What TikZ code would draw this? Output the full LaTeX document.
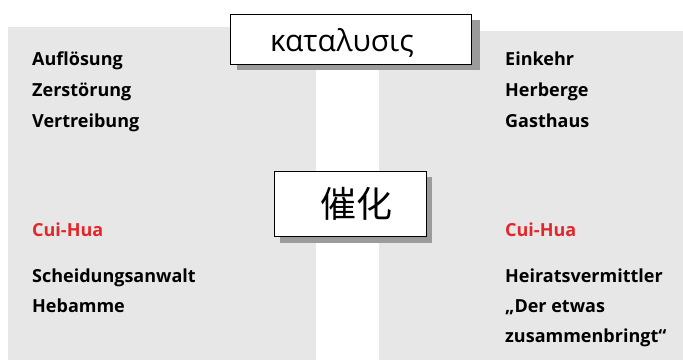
\documentclass[tikz,border=0pt]{standalone}
\usepackage{fontspec}
\setmainfont{Open Sans}
\newfontfamily\cjk{Noto Sans CJK SC}
\definecolor{panelgray}{HTML}{E6E7E6}
\definecolor{shadowgray}{HTML}{9B9B9B}
\definecolor{accentred}{HTML}{E3262A}
\begin{document}
\begin{tikzpicture}[x=1pt,y=-1pt,
  panel/.style={fill=panelgray,draw=none},
  word/.style={anchor=base west,inner sep=0pt,font=\fontsize{18}{18}\selectfont\bfseries},
  redword/.style={word,text=accentred},
  titlebox/.style={draw=black,line width=0.9pt,fill=white,inner sep=0pt},
  shadow/.style={fill=shadowgray,draw=none}]
\useasboundingbox[fill=white] (0,0) rectangle (683,361);
% two grey panels
\path[panel] (8,27) rectangle (316,360);
\path[panel] (379,31) rectangle (683,360);
% Greek title box with drop shadow
\path[shadow] (237,20) rectangle (480,70);
\node[titlebox,minimum width=241pt,minimum height=50pt] (greek) at (350.5,39) {};
\node[font=\fontsize{30}{30}\selectfont,anchor=base,inner sep=0pt] (greektext) at (342,52) {καταλυσις};
% Chinese box with drop shadow
\path[shadow] (280,177) rectangle (432,243);
\node[titlebox,minimum width=152pt,minimum height=65pt] (hanzi) at (350,203.5) {};
\node[font=\cjk\fontsize{36}{36}\selectfont,inner sep=0pt] (hanzitext) at (356,204) {催化};
% left column
\node[word] (l1) at (32,66) {Auflösung};
\node[word] (l2) at (32,96) {Zerstörung};
\node[word] (l3) at (32,127) {Vertreibung};
\node[redword] (l4) at (32,236) {Cui-Hua};
\node[word] (l5) at (32,282) {Scheidungsanwalt};
\node[word] (l6) at (32,312) {Hebamme};
% right column
\node[word] (r1) at (505,66) {Einkehr};
\node[word] (r2) at (505,96) {Herberge};
\node[word] (r3) at (505,127) {Gasthaus};
\node[redword] (r4) at (505,236) {Cui-Hua};
\node[word] (r5) at (505,282) {Heiratsvermittler};
\node[word] (r6) at (505,312) {„Der etwas};
\node[word] (r7) at (505,342) {zusammenbringt“};
\end{tikzpicture}
\end{document}
